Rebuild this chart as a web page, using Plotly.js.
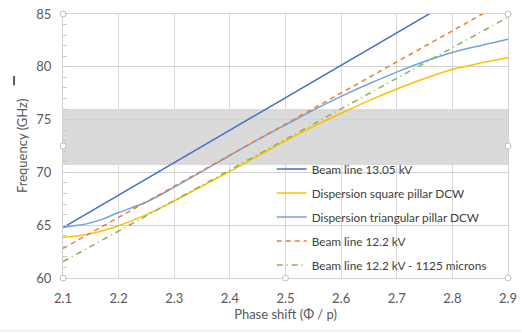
<!DOCTYPE html>
<html>
<head>
<meta charset="utf-8">
<script src="https://cdn.plot.ly/plotly-3.0.1.min.js"></script>
<style>
  html, body { margin: 0; padding: 0; background: #ffffff; }
  #chart { width: 522px; height: 333px; }
</style>
</head>
<body>
<div id="chart"></div>
<script>
// Phase shift (x) and frequencies (GHz)
const phaseCurve = [2.10, 2.12, 2.14, 2.17, 2.20, 2.25, 2.30, 2.35, 2.40, 2.45, 2.50, 2.55, 2.60, 2.65, 2.70, 2.75, 2.80, 2.85, 2.90];
const squarePillar = [63.84, 63.95, 64.10, 64.45, 64.95, 66.0, 67.3, 68.7, 70.1, 71.55, 73.0, 74.35, 75.6, 76.8, 77.9, 78.9, 79.75, 80.35, 80.85];
const triangularPillar = [64.78, 64.95, 65.10, 65.55, 66.2, 67.2, 68.6, 70.1, 71.6, 73.1, 74.5, 75.9, 77.2, 78.4, 79.5, 80.5, 81.35, 82.0, 82.6];

const phaseBeam = [2.1, 2.9];
const beam1305 = [64.78, 89.36];
const beam122 = [62.8, 86.35];
const beam122_1125 = [61.55, 84.7];

const bandLow = 70.7;
const bandHigh = 76.0;

const yRange = [60, 85];
const yTicks = [60, 65, 70, 75, 80, 85];
const xTicks = [2.1, 2.2, 2.3, 2.4, 2.5, 2.6, 2.7, 2.8, 2.9];

const FONT = 'Lato, "Open Sans", sans-serif';

const traces = [
  {x: phaseBeam, y: beam1305, name: 'Beam line 13.05 kV', legendgroup: 'a',
   mode: 'lines', line: {color: '#4472C4', width: 1.5}},
  {x: phaseCurve, y: squarePillar, name: 'Dispersion square pillar DCW', legendgroup: 'b',
   mode: 'lines', line: {color: '#FFC000', width: 1.5, shape: 'spline'}},
  {x: phaseCurve, y: triangularPillar, name: 'Dispersion triangular pillar DCW', legendgroup: 'c',
   mode: 'lines', line: {color: '#6FA5DC', width: 1.5, shape: 'spline'}},
  {x: phaseBeam, y: beam122, name: 'Beam line 12.2 kV', legendgroup: 'd',
   mode: 'lines', line: {color: '#ED7D31', width: 1.5, dash: '5px,4px'}},
  {x: phaseBeam, y: beam122_1125, name: 'Beam line 12.2 kV - 1125 microns', legendgroup: 'e',
   mode: 'lines', line: {color: '#7DB854', width: 1.5, dash: '6px,4px,1px,4px'}}
];

const handle = (x, y) => ({
  type: 'circle', xref: 'paper', yref: 'paper', xsizemode: 'pixel', ysizemode: 'pixel',
  xanchor: x, yanchor: y, x0: -3, x1: 3, y0: -3, y1: 3,
  line: {color: '#BFBFBF', width: 1}, fillcolor: '#ffffff', layer: 'above'
});

const frac = v => (v - yRange[0]) / (yRange[1] - yRange[0]);

const layout = {
  width: 522, height: 333,
  margin: {l: 63, r: 14, t: 14, b: 55},
  paper_bgcolor: '#ffffff', plot_bgcolor: 'rgba(0,0,0,0)',
  font: {family: FONT, size: 13, color: '#595959'},
  showlegend: true,
  legend: {
    x: 0.469, xanchor: 'left', y: 0.468, yanchor: 'top',
    bgcolor: 'rgba(0,0,0,0)', borderwidth: 0,
    font: {family: FONT, size: 11.8, color: '#404040'},
    tracegroupgap: 5, traceorder: 'grouped'
  },
  xaxis: {
    range: [2.1, 2.9], tickvals: xTicks, ticktext: xTicks.map(v => v.toFixed(1)),
    showgrid: true, gridcolor: '#D9D9D9', gridwidth: 1,
    showline: true, linecolor: '#D0D0D0', linewidth: 1, mirror: true,
    ticks: '', zeroline: false, ticklabelstandoff: 8,
    tickfont: {family: FONT, size: 13, color: '#595959'},
    title: {text: 'Phase shift (Φ / p)', font: {family: FONT, size: 13, color: '#595959'}, standoff: 4}
  },
  yaxis: {
    range: yRange, tickvals: yTicks,
    showgrid: true, gridcolor: '#D2D2D2', gridwidth: 1,
    showline: true, linecolor: '#D0D0D0', linewidth: 1, mirror: true,
    ticks: '', zeroline: false, ticklabelstandoff: 8,
    minor: {dtick: 1, ticks: 'inside', ticklen: 4, tickcolor: '#C8C8C8', showgrid: false},
    tickfont: {family: FONT, size: 13, color: '#595959'}
  },
  annotations: [
    {text: 'Frequency (GHz)', xref: 'paper', yref: 'paper', x: -0.092, y: 0.5,
     xanchor: 'center', yanchor: 'middle', textangle: -90, showarrow: false,
     font: {family: FONT, size: 13, color: '#595959'}}
  ],
  shapes: [
    {type: 'rect', xref: 'paper', yref: 'paper', x0: 0, x1: 1, y0: frac(bandLow), y1: frac(bandHigh),
     fillcolor: '#DADADA', line: {width: 0}, layer: 'below'},
    {type: 'line', xref: 'paper', yref: 'paper', x0: -0.11, x1: -0.11, y0: 0.73, y1: 0.765,
     line: {color: '#595959', width: 2}},
    {type: 'line', xref: 'paper', yref: 'paper', x0: -0.142, x1: 1.03, y0: -0.2, y1: -0.2,
     line: {color: '#E6E6E6', width: 1}},
    handle(0, 1),
    handle(1, 1),
    handle(0, 0.5),
    handle(1, 0.5),
    handle(0, 0),
    handle(0.5, 0),
    handle(1, 0)
  ]
};

Plotly.newPlot('chart', traces, layout, {staticPlot: true, displayModeBar: false});
</script>
</body>
</html>
